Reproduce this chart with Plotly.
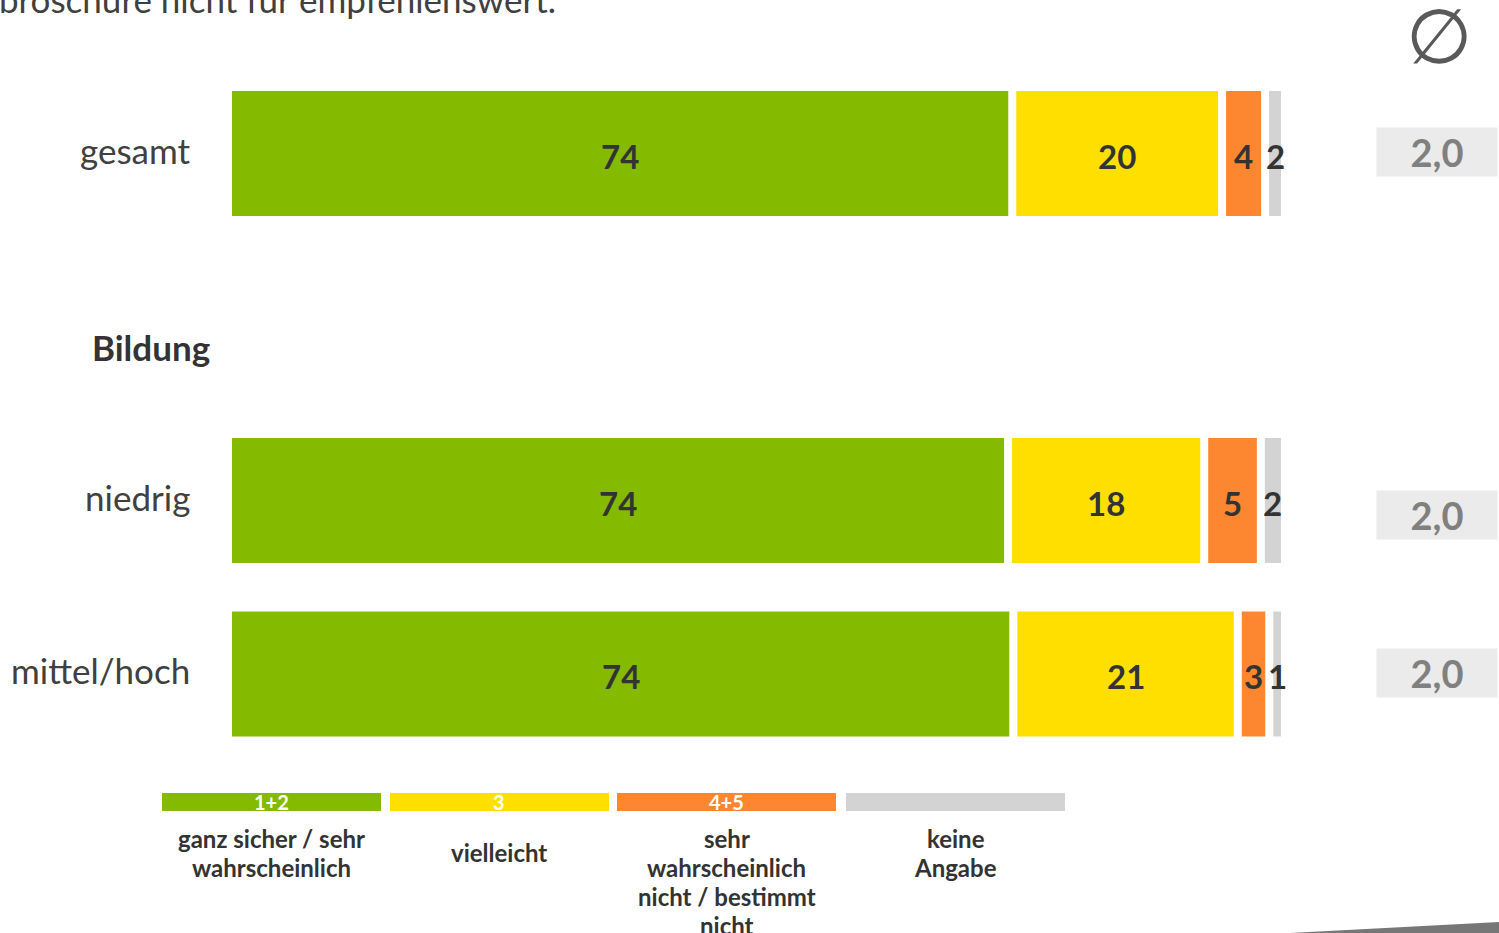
import plotly.graph_objects as go

# ---------------- data ----------------
groups = ["gesamt", "niedrig", "mittel/hoch"]
category_order = ["gesamt", "_gap", "niedrig", "mittel/hoch"]
series_names = ["ganz sicher / sehr wahrscheinlich", "vielleicht",
                "sehr wahrscheinlich nicht / bestimmt nicht", "keine Angabe"]
series_codes = ["1+2", "3", "4+5", ""]
# segment widths (percent) per group
green_vals = [74.0, 73.6, 74.1]
yellow_vals = [20.0, 18.7, 21.4]
orange_vals = [4.1, 5.4, 3.0]
grey_vals = [1.9, 2.3, 1.5]
# printed labels
green_lbl = ["74", "74", "74"]
yellow_lbl = ["20", "18", "21"]
orange_lbl = ["4", "5", "3"]
grey_lbl = ["2", "2", "1"]
averages = ["2,0", "2,0", "2,0"]
legend_lines = [["ganz sicher / sehr", "wahrscheinlich"], ["vielleicht"],
                ["sehr", "wahrscheinlich", "nicht / bestimmt", "nicht"], ["keine", "Angabe"]]

colors = ["#84BB00", "#FFDF00", "#FD8631", "#D3D3D3"]
W, H = 1499, 933
FONT = "Lato"
DARK = "#333333"

series = [green_vals, yellow_vals, orange_vals, grey_vals]
labels = [green_lbl, yellow_lbl, orange_lbl, grey_lbl]

x0_px, x1_px = 232, 1281
px_per_unit = (x1_px - x0_px) / 100.0
gap = 8 / px_per_unit

fig = go.Figure()
ann = []
cum = [0.0] * len(groups)
for i, (vals, lbls) in enumerate(zip(series, labels)):
    off = gap if i > 0 else 0.0
    bases = [c + off for c in cum]
    lens = [v - off for v in vals]
    fig.add_trace(go.Bar(
        orientation="h", y=groups, x=lens, base=bases, width=0.72,
        marker=dict(color=colors[i], line=dict(width=0)),
        name=series_names[i], showlegend=False, hoverinfo="skip"))
    for g, b, l, t in zip(groups, bases, lens, lbls):
        ann.append(dict(text="<b>" + t + "</b>", x=b + l / 2, y=g, xref="x", yref="y",
                        xanchor="center", yanchor="middle", yshift=-2, showarrow=False,
                        font=dict(family=FONT, size=33, color=DARK)))
    cum = [c + v for c, v in zip(cum, vals)]

row_px = 173.5
top_px = 153.5
fig.update_layout(
    width=W, height=H, margin=dict(l=0, r=0, t=0, b=0),
    paper_bgcolor="white", plot_bgcolor="white", barmode="overlay",
    font=dict(family=FONT),
    xaxis=dict(range=[0, 100], domain=[x0_px / W, x1_px / W], visible=False, fixedrange=True),
    yaxis=dict(type="category", categoryorder="array", categoryarray=category_order,
               range=[(H - top_px) / row_px, -top_px / row_px], domain=[0, 1],
               showticklabels=False, showgrid=False, zeroline=False,
               showline=False, ticks="", automargin=False, fixedrange=True),
)

# category labels (left of the bars)
for g in groups:
    ann.append(dict(text=g, x=192 / W, y=g, xref="paper", yref="y", xanchor="right",
                    yanchor="middle", yshift=4, showarrow=False,
                    font=dict(family=FONT, size=35, color="#404040")))
# cut-off heading line at the top
ann.append(dict(text="broschüre nicht für empfehlenswert.", x=-3 / W, y=1 + 1 / H,
                xref="paper", yref="paper", xanchor="left", yanchor="middle",
                showarrow=False, font=dict(family=FONT, size=35, color="#404040")))
# group heading
ann.append(dict(text="<b>Bildung</b>", x=90 / W, y=1 - 347 / H, xref="paper", yref="paper",
                xanchor="left", yanchor="middle", showarrow=False,
                font=dict(family=FONT, size=35, color=DARK)))
# average symbol
ann.append(dict(text="∅", x=1439 / W, y=1 - 36 / H, xref="paper", yref="paper",
                xanchor="center", yanchor="middle", showarrow=False,
                font=dict(family="DejaVu Sans", size=76, color="#595959")))
# average boxes
avg_centers_px = [152, 515, 673]
for a, cy in zip(averages, avg_centers_px):
    ann.append(dict(text="<b>" + a + "</b>", x=1437 / W, y=1 - cy / H, xref="paper", yref="paper",
                    xanchor="center", yanchor="middle", showarrow=False,
                    width=120, height=48, bgcolor="#EBEBEB", borderpad=0,
                    font=dict(family=FONT, size=38, color="#808080")))

# custom legend
legend_left = [162, 390, 617, 846]
legend_w = 219
line_step = 29
shapes = []
for i, lx in enumerate(legend_left):
    cx = (lx + legend_w / 2) / W
    shapes.append(dict(type="rect", xref="paper", yref="paper",
                       x0=lx / W, x1=(lx + legend_w) / W, y0=1 - 811 / H, y1=1 - 793 / H,
                       fillcolor=colors[i], line=dict(width=0)))
    if series_codes[i]:
        ann.append(dict(text="<b>" + series_codes[i] + "</b>", x=cx,
                        y=1 - 802 / H, xref="paper", yref="paper", xanchor="center",
                        yanchor="middle", showarrow=False,
                        font=dict(family=FONT, size=20, color="white")))
    lines = legend_lines[i]
    first = 852.5 if len(lines) == 1 else 838
    for k, ln in enumerate(lines):
        ann.append(dict(text="<b>" + ln + "</b>", x=cx, y=1 - (first + k * line_step) / H,
                        xref="paper", yref="paper", xanchor="center", yanchor="middle",
                        showarrow=False, font=dict(family=FONT, size=24, color=DARK)))

# decorative wedge bottom-right
shapes.append(dict(type="path", xref="paper", yref="paper",
                   path=f"M {1290 / W} 0 L 1 {1 - 922 / H} L 1 0 Z",
                   fillcolor="#777777", line=dict(width=0)))

fig.update_layout(annotations=ann, shapes=shapes)
fig.write_html("out.html", config={"displayModeBar": False},
               post_script="document.body.style.margin='0';document.body.style.overflow='hidden';")
